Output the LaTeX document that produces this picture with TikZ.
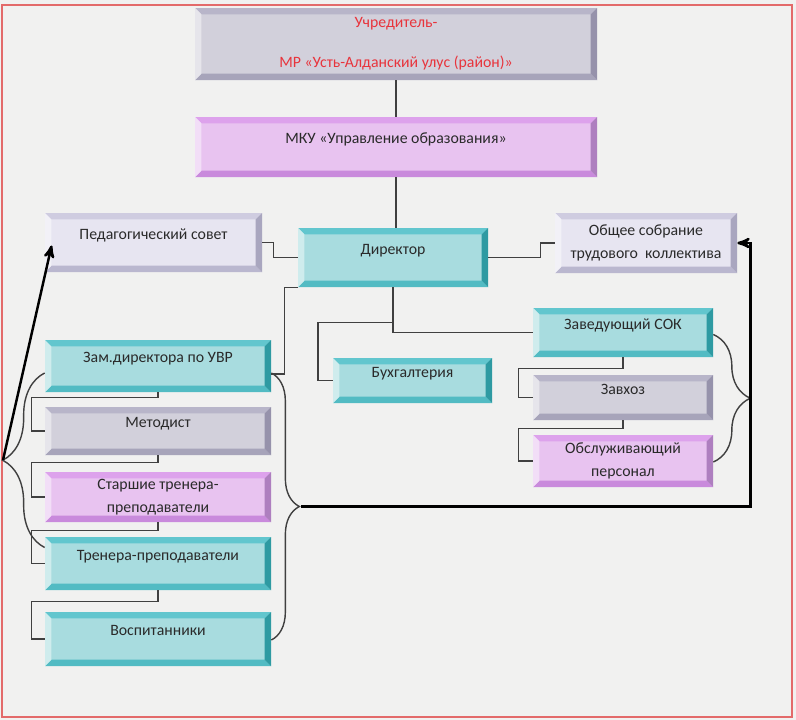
\documentclass[tikz,border=0pt]{standalone}
\usepackage{fontspec}
\setmainfont{Carlito}
\usetikzlibrary{arrows,calc,decorations.pathreplacing}
\definecolor{paper}{HTML}{F1F1F0}
\definecolor{frame}{HTML}{E36A6A}
\definecolor{tealfill}{HTML}{A8DCDF}
\definecolor{tealtop}{HTML}{62C6CE}
\definecolor{tealbot}{HTML}{52BBC3}
\definecolor{tealright}{HTML}{2E9AA2}
\definecolor{greyfill}{HTML}{D2D0DB}
\definecolor{greytop}{HTML}{B8B5C9}
\definecolor{greybot}{HTML}{A7A4BA}
\definecolor{greyright}{HTML}{9692AB}
\definecolor{pinkfill}{HTML}{E8C3F0}
\definecolor{pinktop}{HTML}{DDA2EC}
\definecolor{pinkbot}{HTML}{C98ADC}
\definecolor{pinkright}{HTML}{AE7FBF}
\definecolor{lavfill}{HTML}{E7E5F1}
\definecolor{lavtop}{HTML}{CFCCE0}
\definecolor{lavbot}{HTML}{BAB7CF}
\definecolor{lavright}{HTML}{A9A6BF}
\definecolor{txtdark}{HTML}{2A2A2A}
\definecolor{foundred}{HTML}{E8343C}
\definecolor{linkgray}{HTML}{404040}
\newcommand\bvl{3.6pt}
\tikzset{
  chart/.style={x=0.02cm,y=-0.02cm,>=stealth',font=\fontsize{9}{11}\selectfont},
  unit/.style 2 args={rectangle,inner sep=0pt,align=center,text=txtdark,
    minimum width=#1*0.02cm,minimum height=#2*0.02cm},
  raised/.style={text height=7pt,text depth=10.5pt},
  bevel/.style n args={4}{fill=#1,
    path picture={
      \path (path picture bounding box.south west) coordinate (p1)
            (path picture bounding box.north east) coordinate (p3);
      \fill[#2] (p1 |- p3) -- (p3) -- ++(-\bvl,-\bvl) -- ([shift={(\bvl,-\bvl)}]p1 |- p3) -- cycle;
      \fill[#3] (p1) -- (p1 -| p3) -- ++(-\bvl,\bvl) -- ([shift={(\bvl,\bvl)}]p1) -- cycle;
      \fill[#4] (p3) -- (p1 -| p3) -- ++(-\bvl,\bvl) -- ([shift={(-\bvl,-\bvl)}]p3) -- cycle;
      \fill[#1!55!white] (p1) -- (p1 |- p3) -- ++(\bvl,-\bvl) -- ([shift={(\bvl,\bvl)}]p1) -- cycle;
    }},
  teal unit/.style={bevel={tealfill}{tealtop}{tealbot}{tealright}},
  grey unit/.style={bevel={greyfill}{greytop}{greybot}{greyright}},
  pink unit/.style={bevel={pinkfill}{pinktop}{pinkbot}{pinkright}},
  lav unit/.style={bevel={lavfill}{lavtop}{lavbot}{lavright}},
  link/.style={draw=linkgray,line width=0.8pt},
  lead/.style={draw=black,line width=1.4pt,->},
  bracket/.style={link,decorate,decoration={brace,amplitude=#1}}
}
\begin{document}
\begin{tikzpicture}[chart]
  \useasboundingbox (0,0) rectangle (796,720);
  \fill[paper] (0,0) rectangle (796,720);
  \draw[frame,line width=1pt] (2,5) rectangle (792,717);

  \node[unit={402}{72}, grey unit, text=foundred] (founder) at (396,44)
    {Учредитель-\\[12pt]МР «Усть-Алданский улус (район)»};
  \node[unit={402}{60}, pink unit, raised] (board) at (396,147) {МКУ «Управление образования»};
  \node[unit={217}{59}, lav unit, raised] (council) at (153.5,242.5) {Педагогический совет};
  \node[unit={190}{59}, teal unit, raised] (head) at (393,257.5) {Директор};
  \node[unit={182}{60}, lav unit] (meeting) at (646,243) {Общее собрание\\[2pt]трудового\ \ коллектива};
  \node[unit={180}{49}, teal unit, raised] (sok) at (623,332.5) {Заведующий СОК};
  \node[unit={159}{45}, teal unit, raised] (acc) at (412.5,380.5) {Бухгалтерия};
  \node[unit={180}{45}, grey unit, raised] (supply) at (623,397.5) {Завхоз};
  \node[unit={180}{52}, pink unit] (staff) at (623,461) {Обслуживающий\\[2pt]персонал};
  \node[unit={226}{52}, teal unit, raised] (deputy) at (158,366) {Зам.директора по УВР};
  \node[unit={226}{48}, grey unit, raised] (method) at (158,431) {Методист};
  \node[unit={226}{50}, pink unit] (senior) at (158,497) {Старшие тренера-\\[2pt]преподаватели};
  \node[unit={226}{53}, teal unit, raised] (coach) at (158,563.5) {Тренера-преподаватели};
  \node[unit={226}{54}, teal unit, raised] (pupil) at (158,639) {Воспитанники};

  \coordinate (ltip) at (3,460);
  \coordinate (rtip) at (301,506.5);

  \draw[link] (founder.south) -- (board.north);
  \draw[link] (board.south) -- (board.south |- head.north);
  \draw[link] (council.east) -- ++(11,0) |- (head.west);
  \draw[link] (head.east) -- ++(52,0) |- (meeting.west);
  \draw[link] (head.south) |- (sok.west);
  \draw[link] ($(head.south)+(0,35)$) -- ++(-75,0) |- (acc.west);
  \draw[link] (head.south west) -- ++(-13,0) |- ($(deputy.east)+(0,8)$);
  \draw[link] (sok.south) -- ++(0,11) -| ($(supply.west)+(-14,0)$) -- (supply.west);
  \draw[link] (supply.south) -- ++(0,8) -| ($(staff.west)+(-14,0)$) -- (staff.west);
  \draw[link] (deputy.south) -- ++(0,5) -| ($(method.west)+(-13,0)$) -- (method.west);
  \draw[link] (method.south) -- ++(0,7) -| ($(senior.west)+(-13,0)$) -- (senior.west);
  \draw[link] (senior.south) -- ++(0,8) -| ($(coach.west)+(-13,0)$) -- (coach.west);
  \draw[link] (coach.south) -- ++(0,11) -| ($(pupil.west)+(-13,0)$) -- (pupil.west);

  \draw[bracket=0.84cm] ($(coach.west)+(0,-16)$) -- ($(deputy.west)+(0,7)$);
  \draw[bracket=0.56cm] ($(deputy.east)+(0,7)$) -- ($(pupil.east)+(0,1)$);
  \draw[bracket=0.74cm] ($(sok.east)+(0,2)$) -- ($(staff.east)+(0,1)$);

  \draw[lead] (ltip) -- ($(council.west)+(7,3)$);
  \draw[lead] (rtip) -| ($(meeting.east)+(13,0)$) -- (meeting.east);
\end{tikzpicture}
\end{document}
